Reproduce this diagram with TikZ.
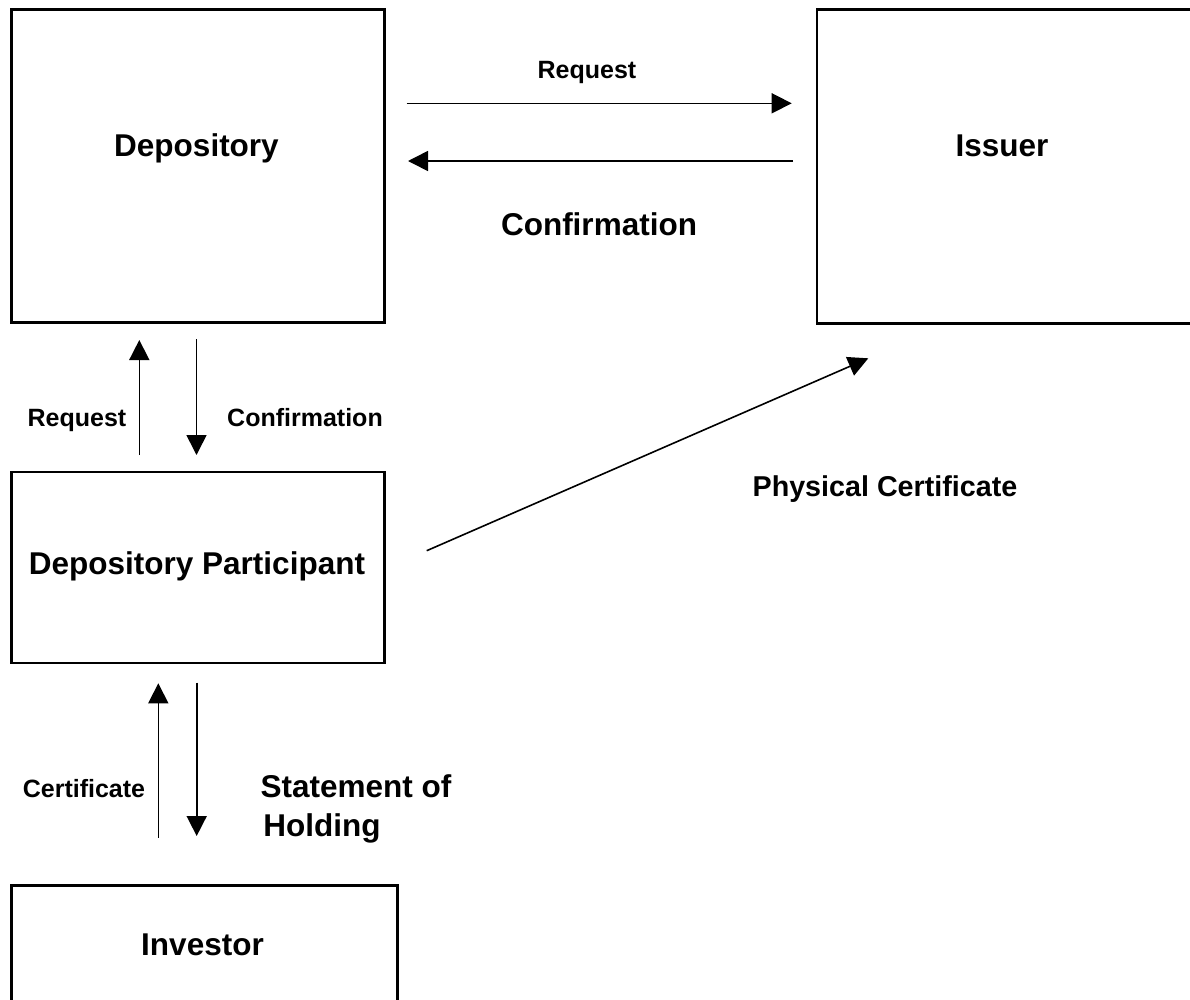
\documentclass[tikz,border=0pt]{standalone}
\usepackage{fontspec}
\setmainfont{Liberation Sans}
\usetikzlibrary{arrows.meta}
\tikzset{
  box/.style={draw=black, line width=2.6pt, rectangle, inner sep=0pt, anchor=north west},
  lbl/.style={anchor=base, inner sep=0pt, font=\bfseries\fontsize{31.5}{36}\selectfont},
  lblm/.style={anchor=base, inner sep=0pt, font=\bfseries\fontsize{25}{30}\selectfont},
  lbls/.style={anchor=base, inner sep=0pt, font=\bfseries\fontsize{25}{30}\selectfont},
  lblp/.style={anchor=base, inner sep=0pt, font=\bfseries\fontsize{28.7}{34}\selectfont},
  conn/.style={line width=1.6pt, -{Triangle[length=20pt,width=20pt]}},
}
\begin{document}
\begin{tikzpicture}[x=1pt,y=-1pt]
\useasboundingbox (0,0) rectangle (1190,999);
\clip (0,0) rectangle (1190,999);
\fill[white] (0,0) rectangle (1190,999);
% boxes
\node[box, minimum width=373pt, minimum height=313pt] (dep) at (10,8) {};
\node[box, minimum width=400pt, minimum height=314pt] (iss) at (815.7,8) {};
\node[box, minimum width=373pt, minimum height=191pt] (dp) at (10,470.5) {};
\node[box, minimum width=386pt, minimum height=140pt] (inv) at (10,884) {};
% box labels
\node[lbl] (tdep) at (196.5,156) {Depository};
\node[lbl] (tiss) at (1002,156.5) {Issuer};
\node[lbl] (tdp) at (197,574) {Depository Participant};
\node[lbl] (tinv) at (202.5,955) {Investor};
% connector end points
\coordinate (r1s) at (406.7,103.3);
\coordinate (r1e) at (791.7,103.3);
\coordinate (c1s) at (793,161);
\coordinate (c1e) at (408,161);
\coordinate (r2s) at (139.3,455);
\coordinate (r2e) at (139.3,340);
\coordinate (c2s) at (196.5,339);
\coordinate (c2e) at (196.5,455);
\coordinate (pcs) at (426.7,550.7);
\coordinate (pce) at (868.3,358.3);
\coordinate (ces) at (158.3,837.7);
\coordinate (cee) at (158.3,683.3);
\coordinate (shs) at (196.7,682.7);
\coordinate (she) at (196.7,836);
% connectors
\draw[conn] (r1s) -- (r1e);
\draw[conn] (c1s) -- (c1e);
\draw[conn] (r2s) -- (r2e);
\draw[conn] (c2s) -- (c2e);
\draw[conn] (pcs) -- (pce);
\draw[conn] (ces) -- (cee);
\draw[conn] (shs) -- (she);
% connector labels
\node[lblm] (lr1) at (587,78.3) {Request};
\node[lbl] (lc1) at (599,235) {Confirmation};
\node[lbls] (lr2) at (77,426) {Request};
\node[lbls] (lc2) at (305,426) {Confirmation};
\node[lblp] (lpc) at (885,496.7) {Physical Certificate};
\node[lbls] (lce) at (84,797.3) {Certificate};
\node[lbl] (ls1) at (356,797.3) {Statement of};
\node[lbl] (ls2) at (322,836.7) {Holding};
\end{tikzpicture}
\end{document}
